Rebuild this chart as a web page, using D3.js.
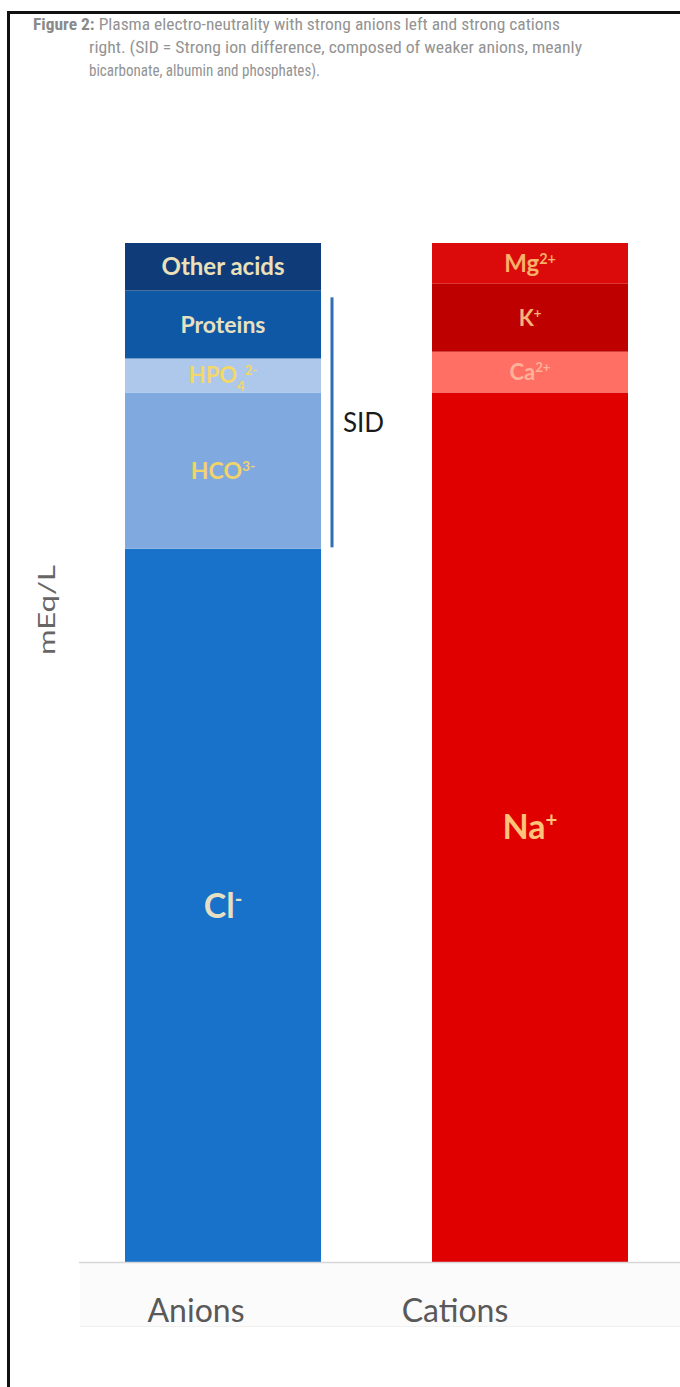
<!DOCTYPE html>
<html>
<head>
<meta charset="utf-8">
<script src="https://cdn.jsdelivr.net/npm/d3@7"></script>
<style>
  html, body { margin: 0; padding: 0; background: #fff; }
  svg { display: block; }
</style>
</head>
<body>
<svg id="chart" width="680" height="1387"></svg>
<script>
// Plasma ion composition, mEq/L (stacked bottom to top)
const categories = ["Anions", "Cations"];

const anionNames  = ["Cl", "HCO3", "HPO4", "Proteins", "Other acids"];
const anionValues = [105, 23, 5, 10, 7];

const cationNames  = ["Na", "Ca", "K", "Mg"];
const cationValues = [128, 6, 10, 6];

const anionColors  = ["#1872c9", "#80aadf", "#adc8ea", "#0f58a6", "#0f3c78"];
const cationColors = ["#e00000", "#ff6f64", "#be0000", "#dc0b0b"];

// label pieces: [text, kind] where kind is "" | "sup" | "sub"
const anionLabels = [
  [["Cl", ""], ["-", "sup"]],
  [["HCO", ""], ["3-", "sup"]],
  [["HPO", ""], ["4", "sub"], ["2-", "sup"]],
  [["Proteins", ""]],
  [["Other acids", ""]]
];
const cationLabels = [
  [["Na", ""], ["+", "sup"]],
  [["Ca", ""], ["2+", "sup"]],
  [["K", ""], ["+", "sup"]],
  [["Mg", ""], ["2+", "sup"]]
];
const anionLabelColors  = ["#e6dfc4", "#f0d36a", "#f3d769", "#e9e0c0", "#ebe0b8"];
const anionLabelSizes   = [34, 23, 22, 23, 24];
const cationLabelColors = ["#ffc27a", "#ffb29a", "#f7b27a", "#f8b06a"];
const cationLabelSizes  = [34, 22, 22, 24];

const sidLabel = "SID";
const yLabel = "mEq/L";

const svg = d3.select("#chart");

// frame
svg.append("path")
  .attr("d", "M8.5,1387 V12.5 H680")
  .attr("fill", "none")
  .attr("stroke", "#111")
  .attr("stroke-width", 3);

// caption
const cap = svg.append("g")
  .attr("font-family", "'Liberation Sans Narrow', 'Roboto Condensed', Roboto, sans-serif")
  .attr("font-size", 17)
  .attr("fill", "#939393");
const l1 = cap.append("text").attr("x", 33).attr("y", 30)
  .attr("textLength", 527).attr("lengthAdjust", "spacingAndGlyphs");
l1.append("tspan").attr("font-weight", "bold").attr("fill", "#8a8a8a").text("Figure 2:");
l1.append("tspan").text(" Plasma electro-neutrality with strong anions left and strong cations");
cap.append("text").attr("x", 89).attr("y", 53)
  .attr("textLength", 493).attr("lengthAdjust", "spacingAndGlyphs")
  .text("right. (SID = Strong ion difference, composed of weaker anions, meanly");
cap.append("text").attr("x", 89).attr("y", 76)
  .attr("textLength", 231).attr("lengthAdjust", "spacingAndGlyphs")
  .text("bicarbonate, albumin and phosphates).");

// scales
const y = d3.scaleLinear().domain([0, 150]).range([1262, 243]);
const x = d3.scaleBand().domain(categories).range([94.3, 658.7]).paddingInner(0.3616).paddingOuter(0.1);
const xLabel = d3.scalePoint().domain(categories).range([196, 455]);

// category band behind the axis labels
svg.append("rect")
  .attr("x", 80).attr("y", y(0)).attr("width", 600).attr("height", 64)
  .attr("fill", "#fbfbfb");
svg.append("line")
  .attr("x1", 80).attr("x2", 680).attr("y1", y(0) + 64.5).attr("y2", y(0) + 64.5)
  .attr("stroke", "#f0f0f0");

function stackOf(values) {
  const tops = d3.cumsum(values);
  return values.map((v, i) => ({ y0: tops[i] - v, y1: tops[i], i }));
}

function drawStack(cat, values, colors, labels, labelColors, labelSizes) {
  const g = svg.append("g");
  const segs = stackOf(values);
  const bx = x(cat), bw = x.bandwidth();
  g.selectAll("rect").data(segs).join("rect")
    .attr("x", bx).attr("width", bw)
    .attr("y", d => y(d.y1))
    .attr("height", d => y(d.y0) - y(d.y1))
    .attr("fill", d => colors[d.i]);
  const t = g.selectAll("text").data(segs).join("text")
    .attr("x", bx + bw / 2)
    .attr("y", d => (y(d.y0) + y(d.y1)) / 2)
    .attr("dy", "0.36em")
    .attr("text-anchor", "middle")
    .attr("font-family", "Lato, 'Open Sans', sans-serif")
    .attr("font-weight", "bold")
    .attr("font-size", d => labelSizes[d.i])
    .attr("fill", d => labelColors[d.i]);
  t.each(function(d) {
    const el = d3.select(this);
    labels[d.i].forEach(([txt, kind]) => {
      const s = el.append("tspan").text(txt);
      if (kind === "sup") s.attr("baseline-shift", "super").attr("font-size", labelSizes[d.i] * 0.6);
      if (kind === "sub") s.attr("baseline-shift", "sub").attr("font-size", labelSizes[d.i] * 0.6);
    });
  });
  return segs;
}

const aSegs = drawStack("Anions", anionValues, anionColors, anionLabels, anionLabelColors, anionLabelSizes);
drawStack("Cations", cationValues, cationColors, cationLabels, cationLabelColors, cationLabelSizes);

// SID bracket: bicarbonate + phosphate + proteins
const sidTop = aSegs[3].y1 - 1;
const sidBottom = aSegs[1].y0 + 0.2;
const sidX = x("Anions") + x.bandwidth() + 11;
svg.append("line")
  .attr("x1", sidX).attr("x2", sidX)
  .attr("y1", y(sidTop)).attr("y2", y(sidBottom))
  .attr("stroke", "#2f6db5").attr("stroke-width", 3);
svg.append("text")
  .attr("x", sidX + 11).attr("y", (y(sidTop) + y(sidBottom)) / 2)
  .attr("dy", "0.36em")
  .attr("font-family", "Lato, 'Open Sans', sans-serif")
  .attr("font-size", 26)
  .attr("fill", "#1a1a1a")
  .text(sidLabel);

// baseline axis
svg.append("line")
  .attr("x1", 79).attr("x2", 680).attr("y1", y(0) + 0.5).attr("y2", y(0) + 0.5)
  .attr("stroke", "#d6d6d6").attr("stroke-width", 1.5);

// category labels
svg.append("g").selectAll("text").data(categories).join("text")
  .attr("x", d => xLabel(d))
  .attr("y", 1322)
  .attr("text-anchor", "middle")
  .attr("font-family", "Lato, 'Open Sans', sans-serif")
  .attr("font-size", 32)
  .attr("fill", "#595959")
  .text(d => d);

// y-axis title
svg.append("text")
  .attr("transform", "translate(55, 610) rotate(-90)")
  .attr("text-anchor", "middle")
  .attr("font-family", "Lato, 'Open Sans', sans-serif")
  .attr("font-size", 23)
  .attr("textLength", 90).attr("lengthAdjust", "spacingAndGlyphs")
  .attr("fill", "#666")
  .text(yLabel);
</script>
</body>
</html>
